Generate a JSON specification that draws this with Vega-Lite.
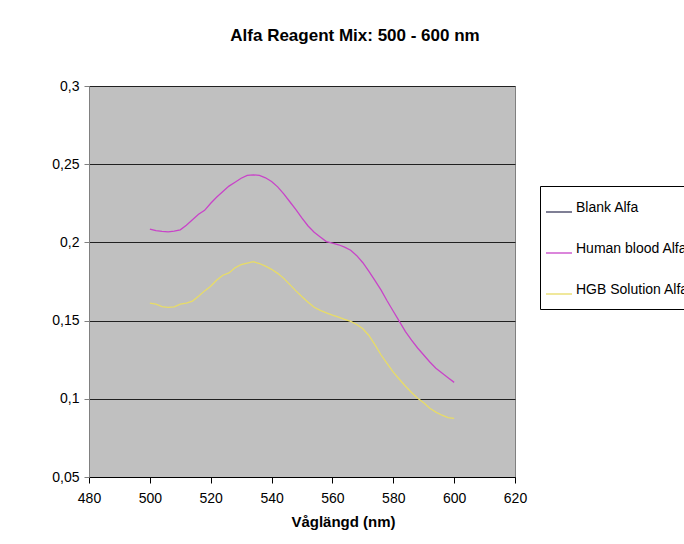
{
  "$schema": "https://vega.github.io/schema/vega-lite/v6.json",
  "autosize": {"type": "none"},
  "width": 426,
  "height": 391,
  "padding": {"left": 89, "top": 86, "right": 169, "bottom": 67},
  "background": "white",
  "title": {
    "text": "Alfa Reagent Mix: 500 - 600 nm",
    "font": "Liberation Sans",
    "fontSize": 17,
    "fontWeight": "bold",
    "color": "black",
    "anchor": "middle",
    "frame": "group",
    "dx": 53,
    "baseline": "alphabetic",
    "offset": 21
  },
  "config": {
    "view": {"fill": "#c0c0c0", "stroke": "#808080", "strokeWidth": 1}
  },
  "data": {
    "values": [
      {"nm": 500, "series": "Human blood Alfa", "abs": 0.2085},
      {"nm": 502, "series": "Human blood Alfa", "abs": 0.2075},
      {"nm": 504, "series": "Human blood Alfa", "abs": 0.207},
      {"nm": 506, "series": "Human blood Alfa", "abs": 0.2067},
      {"nm": 508, "series": "Human blood Alfa", "abs": 0.2072},
      {"nm": 510, "series": "Human blood Alfa", "abs": 0.208},
      {"nm": 512, "series": "Human blood Alfa", "abs": 0.211},
      {"nm": 514, "series": "Human blood Alfa", "abs": 0.2145},
      {"nm": 516, "series": "Human blood Alfa", "abs": 0.218},
      {"nm": 518, "series": "Human blood Alfa", "abs": 0.2205},
      {"nm": 520, "series": "Human blood Alfa", "abs": 0.225},
      {"nm": 522, "series": "Human blood Alfa", "abs": 0.229},
      {"nm": 524, "series": "Human blood Alfa", "abs": 0.2325},
      {"nm": 526, "series": "Human blood Alfa", "abs": 0.236},
      {"nm": 528, "series": "Human blood Alfa", "abs": 0.2385},
      {"nm": 530, "series": "Human blood Alfa", "abs": 0.241},
      {"nm": 532, "series": "Human blood Alfa", "abs": 0.2428},
      {"nm": 534, "series": "Human blood Alfa", "abs": 0.2432},
      {"nm": 536, "series": "Human blood Alfa", "abs": 0.2428},
      {"nm": 538, "series": "Human blood Alfa", "abs": 0.2413},
      {"nm": 540, "series": "Human blood Alfa", "abs": 0.239},
      {"nm": 542, "series": "Human blood Alfa", "abs": 0.2355},
      {"nm": 544, "series": "Human blood Alfa", "abs": 0.231},
      {"nm": 546, "series": "Human blood Alfa", "abs": 0.226},
      {"nm": 548, "series": "Human blood Alfa", "abs": 0.221},
      {"nm": 550, "series": "Human blood Alfa", "abs": 0.2155},
      {"nm": 552, "series": "Human blood Alfa", "abs": 0.2105},
      {"nm": 554, "series": "Human blood Alfa", "abs": 0.2065},
      {"nm": 556, "series": "Human blood Alfa", "abs": 0.2035},
      {"nm": 558, "series": "Human blood Alfa", "abs": 0.2005},
      {"nm": 560, "series": "Human blood Alfa", "abs": 0.1995},
      {"nm": 562, "series": "Human blood Alfa", "abs": 0.1985},
      {"nm": 564, "series": "Human blood Alfa", "abs": 0.197},
      {"nm": 566, "series": "Human blood Alfa", "abs": 0.195},
      {"nm": 568, "series": "Human blood Alfa", "abs": 0.1915},
      {"nm": 570, "series": "Human blood Alfa", "abs": 0.187},
      {"nm": 572, "series": "Human blood Alfa", "abs": 0.1815},
      {"nm": 574, "series": "Human blood Alfa", "abs": 0.1755},
      {"nm": 576, "series": "Human blood Alfa", "abs": 0.1695},
      {"nm": 578, "series": "Human blood Alfa", "abs": 0.1625},
      {"nm": 580, "series": "Human blood Alfa", "abs": 0.156},
      {"nm": 582, "series": "Human blood Alfa", "abs": 0.1495},
      {"nm": 584, "series": "Human blood Alfa", "abs": 0.143},
      {"nm": 586, "series": "Human blood Alfa", "abs": 0.1375},
      {"nm": 588, "series": "Human blood Alfa", "abs": 0.1325},
      {"nm": 590, "series": "Human blood Alfa", "abs": 0.128},
      {"nm": 592, "series": "Human blood Alfa", "abs": 0.1235},
      {"nm": 594, "series": "Human blood Alfa", "abs": 0.1195},
      {"nm": 596, "series": "Human blood Alfa", "abs": 0.1165},
      {"nm": 598, "series": "Human blood Alfa", "abs": 0.1135},
      {"nm": 600, "series": "Human blood Alfa", "abs": 0.1105},
      {"nm": 500, "series": "HGB Solution Alfa", "abs": 0.1612},
      {"nm": 502, "series": "HGB Solution Alfa", "abs": 0.1605},
      {"nm": 504, "series": "HGB Solution Alfa", "abs": 0.159},
      {"nm": 506, "series": "HGB Solution Alfa", "abs": 0.1585},
      {"nm": 508, "series": "HGB Solution Alfa", "abs": 0.1588},
      {"nm": 510, "series": "HGB Solution Alfa", "abs": 0.1605},
      {"nm": 512, "series": "HGB Solution Alfa", "abs": 0.1612},
      {"nm": 514, "series": "HGB Solution Alfa", "abs": 0.1625},
      {"nm": 516, "series": "HGB Solution Alfa", "abs": 0.1655},
      {"nm": 518, "series": "HGB Solution Alfa", "abs": 0.169},
      {"nm": 520, "series": "HGB Solution Alfa", "abs": 0.172},
      {"nm": 522, "series": "HGB Solution Alfa", "abs": 0.176},
      {"nm": 524, "series": "HGB Solution Alfa", "abs": 0.179},
      {"nm": 526, "series": "HGB Solution Alfa", "abs": 0.1805},
      {"nm": 528, "series": "HGB Solution Alfa", "abs": 0.1838},
      {"nm": 530, "series": "HGB Solution Alfa", "abs": 0.1858},
      {"nm": 532, "series": "HGB Solution Alfa", "abs": 0.1868},
      {"nm": 534, "series": "HGB Solution Alfa", "abs": 0.1877},
      {"nm": 536, "series": "HGB Solution Alfa", "abs": 0.1865},
      {"nm": 538, "series": "HGB Solution Alfa", "abs": 0.1848},
      {"nm": 540, "series": "HGB Solution Alfa", "abs": 0.1828},
      {"nm": 542, "series": "HGB Solution Alfa", "abs": 0.1802},
      {"nm": 544, "series": "HGB Solution Alfa", "abs": 0.177},
      {"nm": 546, "series": "HGB Solution Alfa", "abs": 0.173},
      {"nm": 548, "series": "HGB Solution Alfa", "abs": 0.169},
      {"nm": 550, "series": "HGB Solution Alfa", "abs": 0.1652},
      {"nm": 552, "series": "HGB Solution Alfa", "abs": 0.1618},
      {"nm": 554, "series": "HGB Solution Alfa", "abs": 0.1585},
      {"nm": 556, "series": "HGB Solution Alfa", "abs": 0.1565},
      {"nm": 558, "series": "HGB Solution Alfa", "abs": 0.155},
      {"nm": 560, "series": "HGB Solution Alfa", "abs": 0.1535},
      {"nm": 562, "series": "HGB Solution Alfa", "abs": 0.1522},
      {"nm": 564, "series": "HGB Solution Alfa", "abs": 0.1508},
      {"nm": 566, "series": "HGB Solution Alfa", "abs": 0.1495},
      {"nm": 568, "series": "HGB Solution Alfa", "abs": 0.1475},
      {"nm": 570, "series": "HGB Solution Alfa", "abs": 0.1448},
      {"nm": 572, "series": "HGB Solution Alfa", "abs": 0.1405},
      {"nm": 574, "series": "HGB Solution Alfa", "abs": 0.1345},
      {"nm": 576, "series": "HGB Solution Alfa", "abs": 0.128},
      {"nm": 578, "series": "HGB Solution Alfa", "abs": 0.1225},
      {"nm": 580, "series": "HGB Solution Alfa", "abs": 0.117},
      {"nm": 582, "series": "HGB Solution Alfa", "abs": 0.1125},
      {"nm": 584, "series": "HGB Solution Alfa", "abs": 0.108},
      {"nm": 586, "series": "HGB Solution Alfa", "abs": 0.104},
      {"nm": 588, "series": "HGB Solution Alfa", "abs": 0.1003},
      {"nm": 590, "series": "HGB Solution Alfa", "abs": 0.0975},
      {"nm": 592, "series": "HGB Solution Alfa", "abs": 0.094},
      {"nm": 594, "series": "HGB Solution Alfa", "abs": 0.0915},
      {"nm": 596, "series": "HGB Solution Alfa", "abs": 0.0895},
      {"nm": 598, "series": "HGB Solution Alfa", "abs": 0.088},
      {"nm": 600, "series": "HGB Solution Alfa", "abs": 0.0875}
    ]
  },
  "mark": {"type": "line", "strokeWidth": 1.3, "clip": true},
  "encoding": {
    "x": {
      "field": "nm",
      "type": "quantitative",
      "scale": {"domain": [480, 620], "nice": false, "zero": false},
      "axis": {
        "values": [480, 500, 520, 540, 560, 580, 600, 620],
        "title": "Våglängd (nm)",
        "titleFont": "Liberation Sans",
        "titleFontSize": 15,
        "titleFontWeight": "bold",
        "titleColor": "black",
        "titleX": 254,
        "titleY": 49,
        "titleBaseline": "alphabetic",
        "labelFont": "Liberation Sans",
        "labelFontSize": 14,
        "labelColor": "black",
        "labelDx": 4,
        "labelPadding": 8,
        "tickSize": 6,
        "tickColor": "black",
        "domainColor": "black",
        "grid": false,
        "labelFlush": false
      }
    },
    "y": {
      "field": "abs",
      "type": "quantitative",
      "scale": {"domain": [0.05, 0.3], "nice": false, "zero": false},
      "axis": {
        "values": [0.05, 0.1, 0.15, 0.2, 0.25, 0.3],
        "labelExpr": "replace(format(datum.value, '.2~f'), '.', ',')",
        "title": null,
        "labelFont": "Liberation Sans",
        "labelFontSize": 14,
        "labelColor": "black",
        "labelPadding": 5,
        "labelDy": -2,
        "tickSize": 5,
        "tickColor": "#808080",
        "domainColor": "#808080",
        "grid": true,
        "gridColor": "#202020",
        "gridOpacity": 1,
        "gridWidth": 1,
        "labelFlush": false
      }
    },
    "color": {
      "field": "series",
      "type": "nominal",
      "scale": {
        "domain": ["Blank Alfa", "Human blood Alfa", "HGB Solution Alfa"],
        "range": ["#3a3a5c", "#c844c8", "#e8dc66"]
      },
      "legend": {
        "title": null,
        "orient": "none",
        "legendX": 451,
        "legendY": 100,
        "direction": "vertical",
        "strokeColor": "black",
        "fillColor": "white",
        "padding": 12,
        "symbolType": "stroke",
        "symbolSize": 676,
        "symbolStrokeWidth": 1.3,
        "symbolOffset": -7,
        "rowPadding": 24,
        "labelOffset": 3,
        "labelFont": "Liberation Sans",
        "labelFontSize": 14,
        "labelColor": "black",
        "labelBaseline": "alphabetic",
        "labelLimit": 200
      }
    }
  }
}
